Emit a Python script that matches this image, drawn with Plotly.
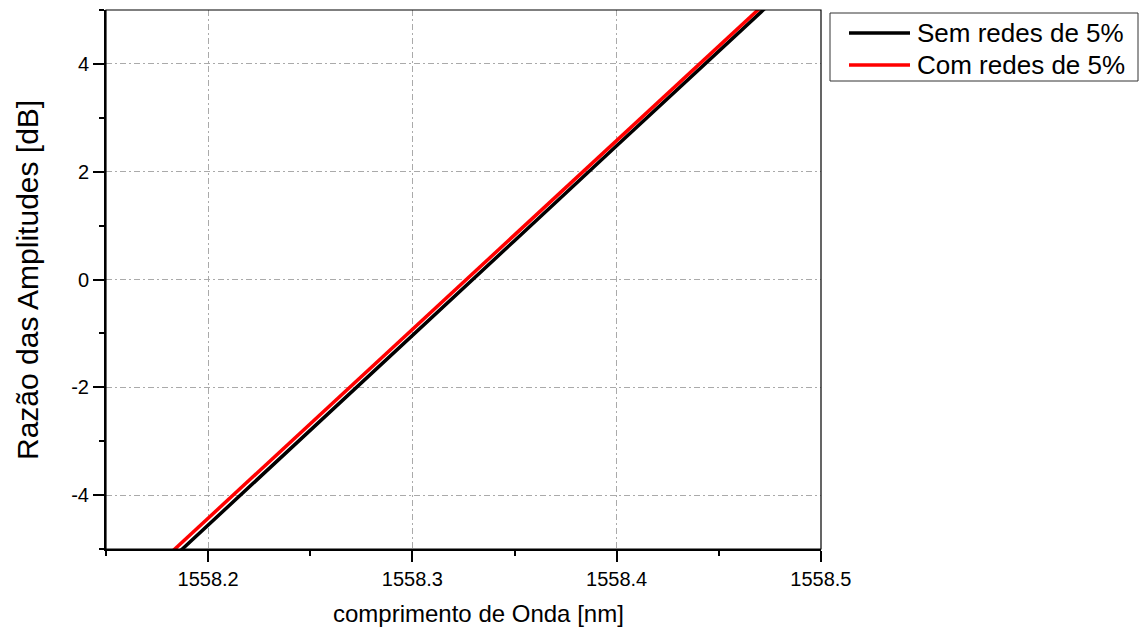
import plotly.graph_objects as go

# Data
wl_sem = [1558.18, 1558.25, 1558.30, 1558.35, 1558.40, 1558.48]
ratio_sem = [-5.26, -2.79, -1.04, 0.72, 2.48, 5.29]
wl_com = [1558.18, 1558.25, 1558.30, 1558.35, 1558.40, 1558.47]
ratio_com = [-5.13, -2.68, -0.93, 0.82, 2.58, 5.03]

series_names = ["Sem redes de 5%", "Com redes de 5%"]
series_colors = ["#000000", "#ff0000"]

x_ticks = [1558.2, 1558.3, 1558.4, 1558.5]
x_ticklabels = ["1558.2", "1558.3", "1558.4", "1558.5"]
y_ticks = [-4, -2, 0, 2, 4]
y_ticklabels = ["-4", "-2", "0", "2", "4"]

x_title = "comprimento de Onda [nm]"
y_title = "Razão das Amplitudes [dB]"

FONT = "Liberation Sans, Arial, sans-serif"

fig = go.Figure()
fig.add_trace(go.Scatter(x=wl_sem, y=ratio_sem, mode="lines", name=series_names[0],
                         line=dict(color=series_colors[0], width=3.5), showlegend=False))
fig.add_trace(go.Scatter(x=wl_com, y=ratio_com, mode="lines", name=series_names[1],
                         line=dict(color=series_colors[1], width=3.5), showlegend=False))

L, R, T, B = 106, 318, 10, 84
W, H = 1139, 633
pw, ph = W - L - R, H - T - B

def px(xpix):
    return (xpix - L) / pw

def py(ypix):
    return (H - B - ypix) / ph

# plot frame
fig.add_shape(type="rect", xref="paper", yref="paper", x0=0, y0=0, x1=1, y1=1,
              line=dict(color="black", width=1.2), layer="above")

# manual legend
fig.add_shape(type="rect", xref="paper", yref="paper", x0=px(830), x1=px(1138), y0=py(81), y1=py(13),
              line=dict(color="#333333", width=1), fillcolor="white")
rows_y = [33, 65]
for name, col, yy in zip(series_names, series_colors, rows_y):
    fig.add_shape(type="line", xref="paper", yref="paper", x0=px(849), x1=px(910), y0=py(yy), y1=py(yy),
                  line=dict(color=col, width=3.5))
    fig.add_annotation(xref="paper", yref="paper", x=px(915), y=py(yy), text=name, showarrow=False,
                       xanchor="left", yanchor="middle", font=dict(family=FONT, size=26, color="black"))

# axis titles
fig.add_annotation(xref="paper", yref="paper", x=px(478), y=py(613), text=x_title, showarrow=False,
                   xanchor="center", yanchor="middle", font=dict(family=FONT, size=24, color="black"))
fig.add_annotation(xref="paper", yref="paper", x=px(27), y=py(280), text=y_title, showarrow=False,
                   textangle=-90, xanchor="center", yanchor="middle",
                   font=dict(family=FONT, size=30, color="black"))

fig.update_layout(
    width=W, height=H,
    margin=dict(l=L, r=R, t=T, b=B),
    paper_bgcolor="white", plot_bgcolor="white",
    font=dict(family=FONT, color="black"),
    showlegend=False,
)
fig.update_xaxes(
    range=[1558.15, 1558.50005],
    tickmode="array", tickvals=x_ticks, ticktext=x_ticklabels,
    tickfont=dict(size=20, family=FONT),
    ticks="outside", ticklen=11, tickwidth=2, tickcolor="black",
    minor=dict(ticks="outside", ticklen=5, tickwidth=2, tickcolor="black",
               tickmode="array", tickvals=[1558.15, 1558.25, 1558.35, 1558.45], showgrid=False),
    showline=True, linewidth=2, linecolor="black",
    showgrid=True, gridcolor="#aaaaaa", gridwidth=1, griddash="6px,3px,2px,3px",
    zeroline=False,
)
fig.update_yaxes(
    range=[-5, 5],
    tickmode="array", tickvals=y_ticks, ticktext=y_ticklabels,
    tickfont=dict(size=20, family=FONT),
    ticks="outside", ticklen=11, tickwidth=2, tickcolor="black",
    minor=dict(ticks="outside", ticklen=5, tickwidth=2, tickcolor="black",
               tickmode="array", tickvals=[-5, -3, -1, 1, 3, 5], showgrid=False),
    showline=True, linewidth=2, linecolor="black",
    showgrid=True, gridcolor="#aaaaaa", gridwidth=1, griddash="6px,3px,2px,3px",
    zeroline=False,
)

fig.write_html("out.html")
